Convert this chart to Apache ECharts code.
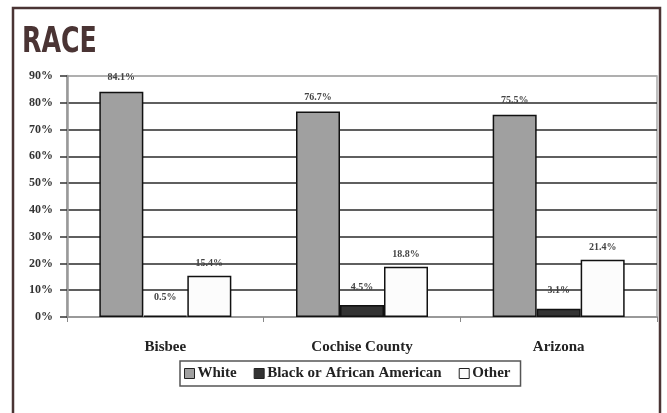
<!DOCTYPE html>
<html>
<head>
<meta charset="utf-8">
<script src="https://cdn.jsdelivr.net/npm/echarts@6/dist/echarts.min.js"></script>
<style>
  html, body { margin: 0; padding: 0; background: #ffffff; }
  #chart { width: 667px; height: 413px; }
</style>
</head>
<body>
<div id="chart"></div>
<script>
// Race breakdown (share of population)
const categories = ['Bisbee', 'Cochise County', 'Arizona'];
const seriesNames = ['White', 'Black or African American', 'Other'];
const whiteValues = [84.1, 76.7, 75.5];
const blackValues = [0.5, 4.5, 3.1];
const otherValues = [15.4, 18.8, 21.4];
const yTicks = [0, 10, 20, 30, 40, 50, 60, 70, 80, 90];

const serif = '"Liberation Serif", "DejaVu Serif", serif';
const frameColor = '#4a3434';

const chart = echarts.init(document.getElementById('chart'), null, { renderer: 'canvas' });

function barSeries(name, values, fill, labelDistance) {
  return {
    name: name,
    type: 'bar',
    data: values,
    barWidth: 44,
    barGap: '0%',
    itemStyle: { color: fill, borderColor: '#111', borderWidth: 1.5 },
    label: {
      show: true,
      position: 'top',
      distance: labelDistance,
      formatter: p => p.value.toFixed(1) + '%',
      fontFamily: serif,
      fontWeight: 'bold',
      fontSize: 10,
      color: '#444'
    }
  };
}

// grid lines: dark for interior levels, light for the top edge
const splitColors = yTicks.map((t, i) => (i === yTicks.length - 1 ? '#aaaaaa' : '#2a2a2a'));

chart.setOption({
  backgroundColor: '#ffffff',
  animation: false,
  graphic: [
    {
      type: 'polyline',
      shape: { points: [[13, 413], [13, 8], [660, 8], [660, 413]] },
      style: { stroke: frameColor, lineWidth: 2.5, fill: null },
      silent: true
    },
    {
      type: 'text',
      left: 22,
      top: 25,
      scaleX: 0.78,
      style: {
        text: 'RACE',
        fontFamily: '"DejaVu Sans Condensed", "DejaVu Sans", sans-serif',
        fontWeight: 'bold',
        fontSize: 36,
        fill: frameColor
      }
    }
  ],
  grid: {
    left: 67, right: 10, top: 76, bottom: 96,
    show: true, borderColor: '#aaaaaa', borderWidth: 1.5
  },
  legend: {
    data: seriesNames,
    left: 180,
    top: 361,
    padding: [5, 10, 5, 4],
    itemWidth: 10,
    itemHeight: 10,
    itemGap: 17,
    borderColor: '#555',
    borderWidth: 1.5,
    icon: 'rect',
    itemStyle: { borderColor: '#222', borderWidth: 1 },
    textStyle: { fontFamily: serif, fontWeight: 'bold', fontSize: 15, color: '#222', padding: [0, 0, 0, -2] }
  },
  xAxis: {
    type: 'category',
    data: categories,
    axisLine: { lineStyle: { color: '#999', width: 2 } },
    axisTick: { show: true, length: 5, lineStyle: { color: '#888' } },
    axisLabel: { fontFamily: serif, fontWeight: 'bold', fontSize: 15, color: '#222', margin: 23 }
  },
  yAxis: {
    type: 'value',
    min: 0,
    max: 90,
    interval: 10,
    axisLine: { show: true, lineStyle: { color: '#999', width: 2.5 } },
    axisTick: { show: true, length: 7, lineStyle: { color: '#333', width: 1.5 } },
    axisLabel: {
      formatter: v => v + '%',
      fontFamily: serif, fontWeight: 'bold', fontSize: 12, color: '#333', margin: 14
    },
    splitLine: { show: true, lineStyle: { color: splitColors, width: 1.6 } }
  },
  series: [
    barSeries(seriesNames[0], whiteValues, '#a0a0a0', 9),
    barSeries(seriesNames[1], blackValues, '#333333', 13),
    barSeries(seriesNames[2], otherValues, '#fcfcfc', 7)
  ]
});
</script>
</body>
</html>
